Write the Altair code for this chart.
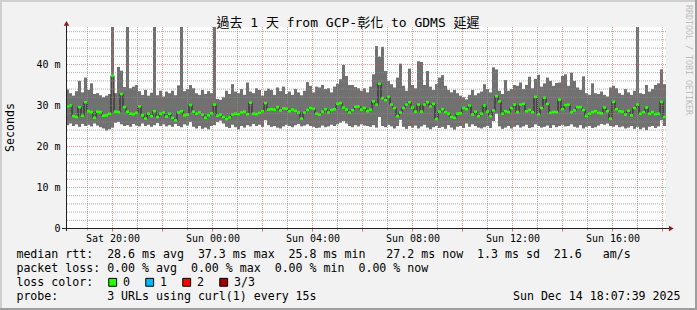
import altair as alt
import pandas as pd

TITLE = "過去 1 天 from GCP-彰化 to GDMS 延遲"
WATERMARK = "RRDTOOL / TOBI OETIKER"
Y_TITLE = "Seconds"

START_HOUR = 18.14   # hours after Sat 00:00 at the left edge
STEP_HOURS = 0.12    # one consolidated sample

MEDIAN = [
    29.8, 30.0, 27.4, 27.2, 29.6, 27.5, 30.8, 28.6, 28.4, 27.0,
    28.5, 28.4, 27.5, 27.6, 28.0, 37.3, 28.5, 28.4, 32.8, 29.6,
    28.5, 28.0, 27.9, 28.2, 29.8, 27.6, 26.8, 28.0, 27.4, 28.6,
    27.2, 28.0, 28.3, 27.3, 28.0, 27.0, 26.4, 28.3, 28.6, 27.6,
    27.8, 30.1, 28.5, 28.0, 28.3, 27.8, 27.0, 27.6, 28.1, 30.2,
    27.5, 27.8, 27.2, 26.7, 27.1, 27.8, 28.0, 27.9, 28.3, 28.5,
    27.9, 30.7, 28.0, 27.9, 28.2, 28.6, 30.6, 29.0, 29.1, 29.0,
    29.6, 28.8, 29.3, 29.2, 28.6, 29.0, 28.7, 28.3, 26.8, 28.3,
    28.9, 29.4, 29.2, 28.0, 27.8, 28.5, 29.1, 28.3, 28.9, 29.1,
    30.4, 30.6, 29.5, 29.0, 28.3, 28.9, 29.7, 29.8, 29.0, 29.4,
    28.6, 29.0, 31.0, 30.2, 35.3, 31.8, 31.3, 32.1, 30.2, 29.4,
    27.4, 28.3, 29.4, 30.2, 30.8, 29.5, 28.5, 30.2, 28.5, 30.2,
    30.8, 29.8, 30.4, 26.7, 28.5, 29.1, 28.4, 28.0, 27.2, 27.0,
    28.0, 28.1, 29.4, 29.1, 30.0, 27.8, 28.5, 27.4, 28.0, 30.0,
    28.5, 27.4, 28.8, 32.3, 31.0, 28.0, 28.6, 28.4, 29.4, 30.2,
    28.4, 30.2, 30.4, 28.6, 28.9, 28.4, 32.1, 27.9, 29.4, 31.9,
    30.4, 28.2, 28.4, 28.4, 31.4, 29.1, 30.1, 30.2, 28.4, 28.8,
    29.6, 29.6, 28.9, 27.5, 28.0, 28.4, 28.6, 28.2, 28.1, 29.5,
    28.6, 26.8, 30.9, 29.1, 28.6, 28.5, 27.8, 28.7, 27.6, 29.4,
    30.2, 28.0, 28.4, 29.5, 28.0, 28.4, 27.9, 28.0, 30.9, 27.2,
]

MAX = [
    33.9, 33.0, 32.4, 33.5, 36.0, 33.2, 36.8, 33.8, 35.4, 32.8,
    33.0, 32.5, 32.0, 32.4, 32.8, 58.0, 33.0, 39.4, 38.5, 34.5,
    58.0, 34.2, 34.6, 35.0, 33.5, 32.6, 33.8, 32.4, 33.1, 58.0,
    32.5, 33.6, 32.2, 33.4, 33.0, 33.6, 32.5, 34.9, 58.0, 33.5,
    34.0, 35.0, 34.2, 33.0, 32.6, 33.8, 32.8, 33.5, 33.0, 58.0,
    31.6, 31.4, 32.0, 33.6, 32.8, 35.2, 33.4, 33.0, 34.0, 32.6,
    35.6, 33.4, 33.0, 34.2, 33.8, 32.4, 33.6, 34.1, 33.8, 32.6,
    34.4, 33.5, 34.6, 32.8, 33.4, 32.6, 34.0, 33.2, 32.5, 33.6,
    35.7, 34.8, 33.2, 34.6, 34.4, 35.0, 34.0, 34.2, 33.2, 34.6,
    35.3, 36.4, 39.9, 37.2, 35.0, 35.0, 34.5, 34.2, 33.6, 34.2,
    33.2, 34.6, 37.6, 44.5, 41.9, 44.3, 38.4, 36.0, 35.2, 34.4,
    36.8, 40.2, 34.8, 33.6, 39.0, 35.0, 34.2, 40.8, 40.6, 35.0,
    38.4, 34.6, 33.8, 35.2, 36.8, 37.4, 34.8, 33.8, 33.2, 33.8,
    33.0, 32.4, 32.0, 31.5, 32.6, 33.8, 32.5, 33.0, 33.4, 35.2,
    34.0, 33.2, 39.3, 38.8, 33.6, 32.8, 36.2, 33.6, 34.0, 35.0,
    34.8, 35.6, 34.0, 35.0, 37.0, 34.2, 36.5, 37.5, 34.6, 35.4,
    36.8, 36.0, 34.8, 35.5, 35.6, 37.2, 37.6, 34.8, 38.0, 36.0,
    34.4, 33.8, 37.1, 33.0, 32.6, 35.4, 33.0, 32.8, 33.4, 32.6,
    32.2, 34.4, 34.8, 34.2, 33.0, 32.6, 34.0, 33.2, 32.6, 33.6,
    58.0, 33.0, 32.8, 35.0, 33.4, 34.0, 35.0, 35.4, 38.8, 35.2,
]

MIN = [
    25.2, 25.6, 25.0, 25.4, 24.8, 25.5, 25.0, 25.3, 24.9, 25.6,
    25.1, 24.7, 24.4, 23.9, 24.2, 24.6, 25.8, 26.0, 25.4, 25.0,
    25.2, 24.8, 25.5, 25.1, 24.9, 25.6, 25.0, 25.3, 24.8, 25.2,
    25.7, 25.0, 25.4, 24.9, 25.2, 24.8, 25.5, 25.0, 24.7, 25.4,
    25.1, 26.0, 24.8, 24.4, 25.0, 24.3, 24.6, 24.2, 25.0, 25.2,
    26.0, 26.3, 25.6, 24.8, 24.5, 25.3, 24.7, 24.2, 25.0, 24.6,
    25.2, 24.9, 25.5, 25.0, 25.3, 24.8, 26.4, 25.2, 24.8, 25.0,
    24.6, 24.4, 24.9, 25.3, 25.0, 24.7, 25.2, 25.5, 24.9, 25.1,
    25.4, 25.0, 24.8, 24.5, 24.6, 25.1, 24.7, 24.9, 25.3, 25.0,
    25.4, 25.8, 26.2, 25.6, 25.0, 24.7, 25.2, 24.9, 25.4, 25.1,
    25.0, 24.8, 25.2, 24.6, 27.2, 25.0, 24.7, 25.3, 24.9, 24.4,
    25.0, 26.5, 24.8, 24.3, 25.0, 24.6, 25.1, 24.4, 24.9, 25.3,
    24.6, 24.2, 24.7, 25.0, 24.5, 24.8, 24.3, 25.2, 24.6, 24.1,
    24.8, 25.0, 24.5, 25.6, 24.8, 25.4, 25.0, 24.6, 24.4, 24.7,
    25.0, 24.5, 26.2, 28.0, 24.9, 24.3, 24.6, 25.0, 24.4, 24.8,
    25.2, 24.6, 24.9, 25.3, 24.5, 24.7, 25.4, 25.0, 24.6, 24.8,
    25.1, 24.5, 25.2, 24.7, 25.0, 25.3, 24.9, 25.0, 25.4, 24.8,
    24.6, 25.2, 24.4, 24.8, 25.0, 24.5, 24.7, 25.1, 25.5, 25.3,
    25.6, 25.0, 24.8, 25.2, 24.7, 24.9, 24.4, 24.6, 25.0, 24.3,
    24.8, 24.2, 24.6, 24.0, 24.8, 25.0, 24.5, 24.9, 26.4, 25.0,
]

X_TICK_HOURS = [20, 24, 28, 32, 36, 40]
X_TICK_LABELS = ["Sat 20:00", "Sun 00:00", "Sun 04:00", "Sun 08:00", "Sun 12:00", "Sun 16:00"]
X_MAJOR_GRID = [20, 22, 24, 26, 28, 30, 32, 34, 36, 38, 40, 42]
X_MINOR_GRID = [19, 21, 23, 25, 27, 29, 31, 33, 35, 37, 39, 41]
Y_TICKS = [0, 10, 20, 30, 40]
Y_MAJOR_GRID = [10, 20, 30, 40]
Y_MINOR_GRID = [2, 4, 6, 8, 12, 14, 16, 18, 22, 24, 26, 28, 32, 34, 36, 38, 42, 44, 46, 48]

NB = "\u00a0"
LEGEND_RTT = "median rtt:  28.6 ms avg  37.3 ms max  25.8 ms min   27.2 ms now  1.3 ms sd  21.6   am/s"
LEGEND_LOSS = "packet loss: 0.00 % avg  0.00 % max  0.00 % min  0.00 % now"
LEGEND_COLOR = "loss color:"
LOSS_LABELS = ["0", "1", "2", "3/3"]
LOSS_COLORS = ["#26ff00", "#00b8ff", "#ff0000", "#a00000"]
LEGEND_PROBE = "probe:       3 URLs using curl(1) every 15s"
DATE_TEXT = "Sun Dec 14 18:07:39 2025"

MONO = "DejaVu Sans Mono"
CJK = "DejaVu Sans Mono, Noto Sans CJK TC, Noto Sans CJK SC"

n = len(MEDIAN)
df = pd.DataFrame({
    "t0": [START_HOUR + STEP_HOURS * i for i in range(n)],
    "t1": [START_HOUR + STEP_HOURS * (i + 1) for i in range(n)],
    "tm": [START_HOUR + STEP_HOURS * (i + 0.5) for i in range(n)],
    "lo": MIN,
    "hi": MAX,
    "med": MEDIAN,
})
ONE = pd.DataFrame({"k": [0]})

XS = alt.Scale(domain=[START_HOUR, START_HOUR + 24], nice=False, zero=False)
YS = alt.Scale(domain=[0, 49.02], range=[201.5, 0.5], nice=False, zero=False)

label_expr = "''"
for h, lab in reversed(list(zip(X_TICK_HOURS, X_TICK_LABELS))):
    label_expr = f"datum.value == {h} ? '{lab}' : {label_expr}"

X_AXIS = alt.Axis(values=X_TICK_HOURS, labelExpr=label_expr, ticks=False, domain=False,
                  grid=False, labelFont=MONO, labelFontSize=10, labelColor="#000000",
                  labelPadding=5, title=None, labelOverlap=False, labelFlush=False)
Y_AXIS = alt.Axis(values=Y_TICKS,
                  labelExpr="datum.value == 0 ? '0" + NB + NB + "' : datum.value + '" + NB + "m'",
                  ticks=False, domain=False, grid=False, labelFont=MONO, labelFontSize=10,
                  labelColor="#000000", labelPadding=6, title=None, labelOverlap=False,
                  labelFlush=False)


def X(field):
    return alt.X(field, scale=XS, axis=X_AXIS)


def Y(field):
    return alt.Y(field, scale=YS, axis=Y_AXIS)


smoke = alt.Chart(df).mark_rect(color="#717171", clip=True).encode(
    x=X("t0:Q"), x2="t1:Q", y=Y("lo:Q"), y2="hi:Q",
)
median_line = alt.Chart(df).mark_line(interpolate="step", color="#202020", strokeWidth=1).encode(
    x=X("tm:Q"), y=Y("med:Q"),
)
median_mark = alt.Chart(df).mark_rule(color="#26ff00", strokeWidth=2.6).encode(
    x=X("t0:Q"), x2="t1:Q", y=Y("med:Q"),
)

GRID = "#8f8f8f"
MGRID = "#de4f4f"


def vgrid(values, color, opacity):
    return alt.Chart(pd.DataFrame({"h": values})).mark_rule(
        color=color, opacity=opacity, strokeDash=[1, 1], strokeWidth=1
    ).encode(x=X("h:Q"))


def hgrid(values, color, opacity):
    return alt.Chart(pd.DataFrame({"v": values})).mark_rule(
        color=color, opacity=opacity, strokeDash=[1, 1], strokeWidth=1
    ).encode(y=Y("v:Q"))


def xticks(values, color, opacity, length):
    return alt.Chart(pd.DataFrame({"h": values})).mark_rule(
        color=color, opacity=opacity, strokeWidth=1
    ).encode(x=X("h:Q"), y=alt.value(201.5), y2=alt.value(201.5 + length))


grid_layers = [
    vgrid(X_MINOR_GRID, GRID, 0.75),
    hgrid(Y_MINOR_GRID, GRID, 0.75),
    vgrid(X_MAJOR_GRID, MGRID, 0.6),
    hgrid(Y_MAJOR_GRID, MGRID, 0.6),
    xticks(X_MINOR_GRID, GRID, 0.75, 2),
    xticks(X_MAJOR_GRID, MGRID, 0.8, 3),
]

AXIS = "#1f1f1f"
ARROW = "#801f1f"
deco = [
    alt.Chart(ONE).mark_rule(color=AXIS, strokeWidth=1).encode(
        x=alt.value(-4), x2=alt.value(603), y=alt.value(201.5)),
    alt.Chart(ONE).mark_rule(color=AXIS, strokeWidth=1).encode(
        x=alt.value(0.5), y=alt.value(-2), y2=alt.value(204)),
    alt.Chart(ONE).mark_point(shape="triangle-up", filled=True, size=30, color=ARROW, opacity=1).encode(
        x=alt.value(0.5), y=alt.value(-3.6)),
    alt.Chart(ONE).mark_point(shape="triangle-right", filled=True, size=30, color=ARROW, opacity=1).encode(
        x=alt.value(605.3), y=alt.value(201.5)),
    # 3-D frame of the image
    alt.Chart(ONE).mark_rule(color="#cfcfcf", strokeWidth=2).encode(
        x=alt.value(-66), x2=alt.value(631), y=alt.value(-26)),
    alt.Chart(ONE).mark_rule(color="#cfcfcf", strokeWidth=2).encode(
        x=alt.value(-65), y=alt.value(-27), y2=alt.value(283)),
    alt.Chart(ONE).mark_rule(color="#9e9e9e", strokeWidth=2).encode(
        x=alt.value(-66), x2=alt.value(631), y=alt.value(282)),
    alt.Chart(ONE).mark_rule(color="#9e9e9e", strokeWidth=2).encode(
        x=alt.value(630), y=alt.value(-27), y2=alt.value(283)),
]


def txt(text, x, y, size=11.6, align="left", baseline="middle", angle=0, color="#000000", font=MONO):
    return alt.Chart(ONE).mark_text(
        text=text.replace(" ", NB), align=align, baseline=baseline, angle=angle,
        font=font, fontSize=size, color=color
    ).encode(x=alt.value(x), y=alt.value(y))


texts = [
    txt(TITLE, 282, -0.5, size=13, align="center", baseline="alphabetic", font=CJK),
    txt(WATERMARK, 621.5, 33, size=8.3, align="center", angle=90, color="#bdbdbd"),
    txt(Y_TITLE, -55.3, 100.5, size=11.6, align="center", angle=270),
    txt(LEGEND_RTT, -49.6, 228.2),
    txt(LEGEND_LOSS, -49.6, 241.8),
    txt(LEGEND_COLOR, -49.6, 255.6),
    txt(LEGEND_PROBE, -49.6, 269.6),
    txt(DATE_TEXT, 614.5, 269.6, align="right"),
]
for i, (lab, col) in enumerate(zip(LOSS_LABELS, LOSS_COLORS)):
    texts.append(
        alt.Chart(ONE).mark_square(size=62, filled=True, color=col, stroke="#000000",
                                   strokeWidth=1, opacity=1).encode(
            x=alt.value(46.7 + 37 * i), y=alt.value(255.3)))
    texts.append(txt(lab, 57 + 37 * i, 255.6))

chart = alt.layer(
    smoke, median_line, median_mark, *grid_layers, *deco, *texts
).properties(
    width=600,
    height=201,
    padding={"left": 66, "top": 27, "right": 31, "bottom": 82},
    autosize=alt.AutoSizeParams(type="none"),
    background="#f2f2f2",
).configure_view(fill="white", stroke=None)

chart.save("out.html", embed_options={"renderer": "svg", "actions": False})
